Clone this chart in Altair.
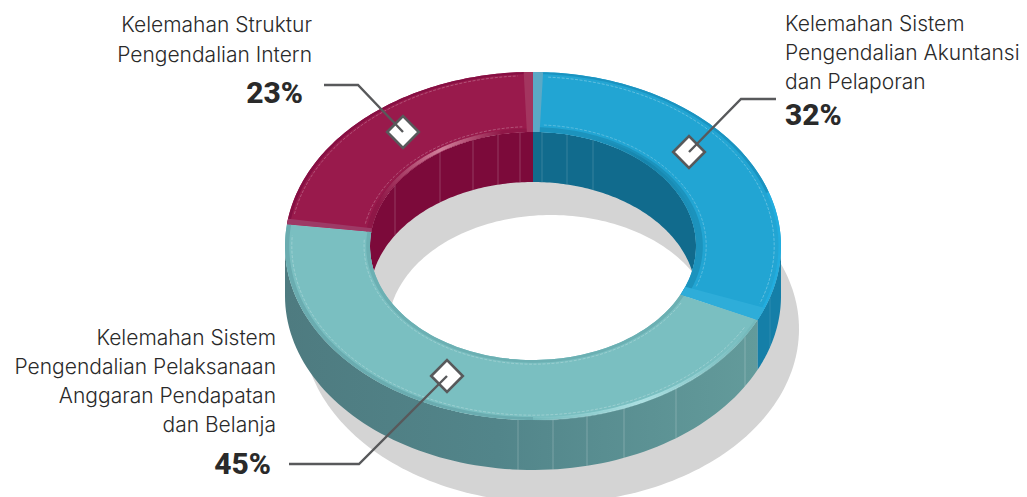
import numpy as np
import pandas as pd
import altair as alt

# ---- data
shares = [32, 45, 23]
names = ["Akuntansi", "Pelaksanaan", "Struktur"]
pct_text = ["32%", "45%", "23%"]
label_lines_right = ["Kelemahan Sistem", "Pengendalian Akuntansi", "dan Pelaporan"]
label_lines_top = ["Kelemahan Struktur", "Pengendalian Intern"]
label_lines_bottom = ["Kelemahan Sistem", "Pengendalian Pelaksanaan", "Anggaran Pendapatan", "dan Belanja"]

W, H = 1011, 489
CX, CY = 533, 246
ORX, ORY = 248, 174
IRX, IRY = 163, 114
DEPTH = 50
SX, SY = 551, 329

f_blue = (0.0, shares[0] / 100)
f_teal = (f_blue[1], f_blue[1] + shares[1] / 100)
f_red = (f_teal[1], 1.0)

xs = alt.Scale(domain=[8, 8 + W], nice=False, zero=False)
ys = alt.Scale(domain=[8 + H, 8], nice=False, zero=False)


def pt(f, t=1.0, dy=0.0, cx=CX, cy=CY):
    f = np.asarray(f, dtype=float)
    rx = IRX + (ORX - IRX) * t
    ry = IRY + (ORY - IRY) * t
    return cx + rx * np.sin(2 * np.pi * f), cy - ry * np.cos(2 * np.pi * f) + dy


def enc(ch):
    return ch.encode(
        x=alt.X("x:Q", scale=xs, axis=None),
        y=alt.Y("y:Q", scale=ys, axis=None),
        order=alt.Order("i:Q"),
    )


def frame(x, y):
    return pd.DataFrame({"x": x, "y": y, "i": np.arange(len(x))})


def poly(x, y, fill):
    return enc(alt.Chart(frame(x, y)).mark_line(fill=fill, strokeWidth=0, clip=True))


def sector(f0, f1, t0, t1, fill):
    fs = np.linspace(f0, f1, 90)
    xa, ya = pt(fs, t1)
    xb, yb = pt(fs[::-1], t0)
    return poly(np.r_[xa, xb], np.r_[ya, yb], fill)


def arc(f0, f1, t, color, width=1.0, opacity=1.0, dash=None, dy=0.0):
    fs = np.linspace(f0, f1, 120)
    x, y = pt(fs, t, dy)
    kw = {"strokeDash": dash} if dash else {}
    return enc(alt.Chart(frame(x, y)).mark_line(stroke=color, strokeWidth=width, opacity=opacity, **kw))


def fade(color):
    return alt.LinearGradient(
        gradient="linear", x1=0, x2=1, y1=0, y2=0,
        stops=[
            alt.GradientStop(color=color + "00", offset=0),
            alt.GradientStop(color=color, offset=0.5),
            alt.GradientStop(color=color + "00", offset=1),
        ],
    )


def outer_wall(f0, f1, fill):
    fs = np.linspace(f0, f1, 90)
    xa, ya = pt(fs, 1.0)
    xb, yb = pt(fs[::-1], 1.0, DEPTH)
    return poly(np.r_[xa, xb], np.r_[ya, yb], fill)


def inner_wall(sign, fill):
    half_top = np.arccos(-(DEPTH / 2) / IRY) / (2 * np.pi)
    half_bot = np.arccos((DEPTH / 2) / IRY) / (2 * np.pi)
    ft = np.linspace(0, half_top, 80) * sign
    fb = np.linspace(half_bot, 0, 80) * sign
    xa, ya = pt(ft, 0.0)
    xb, yb = pt(fb, 0.0, DEPTH)
    return poly(np.r_[xa, xb], np.r_[ya, yb], fill)


def wall_rules(x_list, t, color="#ffffff", opacity=0.35, top_sign=-1):
    rows = []
    rx = IRX + (ORX - IRX) * t
    ry = IRY + (ORY - IRY) * t
    for xv in x_list:
        v = ry * np.sqrt(1 - ((xv - CX) / rx) ** 2)
        yv = CY + top_sign * v
        rows.append({"x": xv, "y": yv, "y2": yv + DEPTH})
    return alt.Chart(pd.DataFrame(rows)).mark_rule(color=color, strokeWidth=0.8, opacity=opacity).encode(
        x=alt.X("x:Q", scale=xs, axis=None),
        y=alt.Y("y:Q", scale=ys, axis=None),
        y2="y2:Q",
    )


def ellipse(cx, cy, rx, ry, fill):
    fs = np.linspace(0, 1, 240)
    return poly(cx + rx * np.sin(2 * np.pi * fs), cy - ry * np.cos(2 * np.pi * fs), fill)


RED, BLUE, TEAL = "#991a4c", "#22a5d3", "#7abfc1"
teal_wall = alt.LinearGradient(
    gradient="linear", x1=0, x2=1, y1=0, y2=0,
    stops=[
        alt.GradientStop(color="#4e7b80", offset=0),
        alt.GradientStop(color="#52858a", offset=0.45),
        alt.GradientStop(color="#639b9b", offset=1),
    ],
)

layers = [
    ellipse(SX, SY, ORX, ORY, "#d4d4d4"),
    ellipse(SX, SY, IRX, IRY, "#ffffff"),
    inner_wall(-1, "#7c0a3a"),
    inner_wall(1, "#116b8d"),
    wall_rules([395, 440, 473, 498, 520], 0.0, opacity=0.25),
    wall_rules([542, 567, 593], 0.0, opacity=0.2),
    outer_wall(0.25, f_blue[1], "#157fa8"),
    outer_wall(f_teal[0], 0.75, teal_wall),
    wall_rules([518, 553, 587, 624, 676, 745], 1.0, opacity=0.28, top_sign=1),
    wall_rules([770], 1.0, opacity=0.12, top_sign=1),
    # top face
    sector(*f_blue, 0, 1, BLUE),
    sector(*f_teal, 0, 1, TEAL),
    sector(*f_red, 0, 1, RED),
    # rims and bevels
    sector(0.0, 0.2, 0.965, 1, "#1b93c0"),
    sector(0.2, f_blue[1], 0.97, 1, "#22addf"),
    sector(0.0, f_blue[1], 0, 0.08, "#1c93bd"),
    sector(f_red[0], 1.0, 0.965, 1, "#860f43"),
    sector(f_red[0], 1.0, 0, 0.06, "#8f1747"),
    sector(f_teal[0], f_teal[1], 0, 0.045, "#6cb0b3"),
    sector(0.5, f_teal[1], 0.95, 1, "#6aacb0"),
    sector(f_teal[0], 0.5, 0.97, 1, "#74b9bb"),
    # seams between the slices
    sector(0.994, 1.0, 0, 1, "#a3355f"),
    sector(0.0, 0.0065, 0, 1, "#5ba9c6"),
    sector(f_blue[1] - 0.012, f_blue[1], 0, 1, "#2eadd9"),
    sector(f_red[0], f_red[0] + 0.005, 0, 1, "#9d3a66"),
    # thin stitched lines
    arc(0.01, f_blue[1] - 0.015, 0.92, "#ffffff", 0.7, 0.4, [3, 1.5]),
    arc(0.01, f_blue[1] - 0.015, 0.12, "#ffffff", 0.7, 0.35, [3, 1.5]),
    arc(f_teal[0] + 0.01, f_teal[1] - 0.01, 0.92, "#ffffff", 0.7, 0.35, [3, 1.5]),
    arc(f_teal[0] + 0.01, f_teal[1] - 0.01, 0.07, "#ffffff", 0.7, 0.35, [3, 1.5]),
    arc(f_red[0] + 0.01, 0.99, 0.94, "#ffffff", 0.7, 0.35, [3, 1.5]),
    arc(f_red[0] + 0.01, 0.99, 0.09, "#ffffff", 0.7, 0.35, [3, 1.5]),
    # highlights
    arc(0.81, 0.97, 0.03, fade("#e29ab0"), 3.5, 0.8),
    arc(0.33, 0.5, 0.985, fade("#b4e6e8"), 3.5, 0.85),
    arc(0.06, 0.27, 0.02, fade("#137fa6"), 3.5, 0.7),
]

# leaders and diamonds
leader_x = [[324, 358, 403], [776, 741, 689], [289, 359, 447]]
leader_y = [[85, 85, 132], [99, 99, 152], [464, 464, 376]]
LINE = "#58595b"
for lx, ly in zip(leader_x, leader_y):
    layers.append(
        alt.Chart(pd.DataFrame({"x": [lx[-1]], "y": [ly[-1]]}))
        .mark_point(shape="diamond", size=1000, filled=True, fill="#ffffff", stroke=LINE, strokeWidth=2.6, opacity=1)
        .encode(x=alt.X("x:Q", scale=xs, axis=None), y=alt.Y("y:Q", scale=ys, axis=None))
    )
    layers.append(enc(alt.Chart(frame(lx, ly)).mark_line(color=LINE, strokeWidth=2.4)))


def text(lines, x, baselines, align, size, weight, font="Inter"):
    df = pd.DataFrame({"x": x, "y": baselines, "t": lines})
    return alt.Chart(df).mark_text(
        align=align, baseline="alphabetic", fontSize=size, fontWeight=weight, font=font, color="#2a2a2a"
    ).encode(x=alt.X("x:Q", scale=xs, axis=None), y=alt.Y("y:Q", scale=ys, axis=None), text="t:N")


TS, TW = 21, 300
layers += [
    text(label_lines_top, 312, [32, 62], "right", TS, TW),
    text(label_lines_right, 785, [31, 60, 89], "left", TS, TW),
    text(label_lines_bottom, 276, [345, 374, 403, 432], "right", TS, TW),
    text([pct_text[2]], 303, [103], "right", 30, 800, "Roboto"),
    text([pct_text[0]], 785, [125], "left", 30, 800, "Roboto"),
    text([pct_text[1]], 271, [474], "right", 30, 800, "Roboto"),
]

chart = (
    alt.layer(*layers)
    .properties(width=W, height=H, padding=0, autosize=alt.AutoSizeParams(type="none"))
    .configure_view(stroke=None)
)
chart.save("out.html", embed_options={"renderer": "svg", "actions": False})
